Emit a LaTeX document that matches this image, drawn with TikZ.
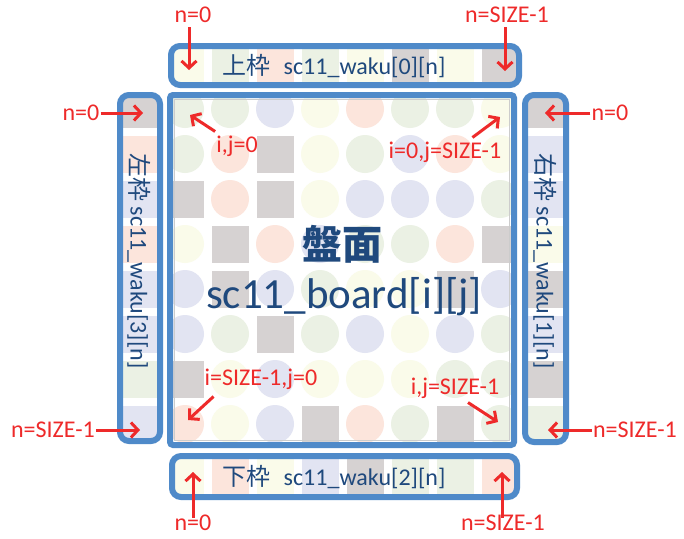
\documentclass[tikz,border=0pt]{standalone}
\usepackage{fontspec}
\setmainfont{Carlito}
\newfontfamily\jp{Noto Sans CJK JP}
\usetikzlibrary{arrows.meta}
\definecolor{frameblue}{HTML}{4F8AC9}
\definecolor{txtblue}{HTML}{1F497D}
\definecolor{lblred}{HTML}{EE2A2A}
\definecolor{cG}{HTML}{EBF1E4}
\definecolor{cB}{HTML}{E2E4F2}
\definecolor{cY}{HTML}{FAFBEA}
\definecolor{cR}{HTML}{FCE5DC}
\definecolor{cS}{HTML}{D6D2D2}
\begin{document}
\begin{tikzpicture}[x=1pt,y=-1pt,
  lbl/.style={text=lblred, font=\fontsize{24}{26}\selectfont, inner xsep=1pt, inner ysep=4pt},
  arr/.style={draw=lblred, line width=3pt, -{Straight Barb[length=7pt,width=15pt]}},
  frm/.style={draw=frameblue, line width=6pt, rounded corners=9pt},
  ftxt/.style={text=txtblue, font=\fontsize{24}{26}\selectfont, inner sep=0pt},
  circ/.style={circle, minimum size=38pt, inner sep=0pt, draw=none},
  sq/.style={rectangle, minimum size=37pt, inner sep=0pt, draw=none},
]
\useasboundingbox (0,0) rectangle (684,538);
\fill[white] (0,0) rectangle (684,538);

% ---------- board cells ----------
\begin{scope}
\clip (170,95) rectangle (514,445);
\foreach \row [count=\r] in {
  {G,G,B,Y,R,G,G,Y},
  {G,R,S,Y,G,B,R,Y},
  {S,R,S,Y,B,B,B,G},
  {Y,S,R,B,G,G,R,S},
  {B,S,B,G,Y,Y,S,B},
  {B,G,S,G,B,Y,B,G},
  {S,Y,B,Y,Y,Y,G,G},
  {R,Y,B,S,R,G,S,G}}{
  \foreach \c [count=\k] in \row {
    \if\c S
      \node[sq, fill=cS] (b\r-\k) at ({185+45*(\k-1)},{109+45*(\r-1)}) {};
    \else
      \node[circ, fill=c\c] (b\r-\k) at ({185+45*(\k-1)},{109+45*(\r-1)}) {};
    \fi
  }
}
\end{scope}
\draw[gray!40, line width=0.8pt] (174.5,99.5) rectangle (509.5,440.5);
\draw[draw=frameblue, line width=6pt, rounded corners=3pt] (170,95) rectangle (514,445);

% ---------- frame cells ----------
\begin{scope}
\clip[rounded corners=6pt] (171,46) rectangle (519,85);
\foreach \c [count=\k] in {Y,G,R,G,Y,S,Y,S}
  \fill[c\c] ({185+45*(\k-1)-18.5},46) rectangle ++(37,39);
\end{scope}
\begin{scope}
\clip[rounded corners=6pt] (172,456) rectangle (517,497);
\foreach \c [count=\k] in {Y,R,Y,B,S,G,G,R}
  \fill[c\c] ({185+45*(\k-1)-18.5},456) rectangle ++(37,41);
\end{scope}
\begin{scope}
\clip[rounded corners=6pt] (120,95) rectangle (160,441);
\foreach \c [count=\r] in {S,R,B,R,B,B,G,B}
  \fill[c\c] (120,{109+45*(\r-1)-18.5}) rectangle ++(40,37);
\end{scope}
\begin{scope}
\clip[rounded corners=6pt] (525,95) rectangle (566,442);
\foreach \c [count=\r] in {S,B,B,Y,S,B,S,G}
  \fill[c\c] (525,{109+45*(\r-1)-18.5}) rectangle ++(41,37);
\end{scope}
\draw[frm] (171,46) rectangle (519,85);
\draw[frm] (172,456) rectangle (517,497);
\draw[frm] (120,95) rectangle (160,441);
\draw[frm] (525,95) rectangle (566,442);

% ---------- frame texts ----------
\node[ftxt] (ut) at (334,66) {{\jp 上枠}\hspace{13pt}sc11\_waku[0][n]};
\node[ftxt] (dt) at (334,477) {{\jp 下枠}\hspace{13pt}sc11\_waku[2][n]};
\node[ftxt, rotate=-90] (lt) at (139,261) {{\jp 左枠} sc11\_waku[3][n]};
\node[ftxt, rotate=-90] (rt) at (545,261) {{\jp 右枠} sc11\_waku[1][n]};

% ---------- board texts ----------
\node[text=txtblue, inner sep=0pt, font=\jp\bfseries\fontsize{40}{44}\selectfont] (ban) at (342,244) {盤面};
\node[text=txtblue, inner sep=0pt, font=\fontsize{43}{48}\selectfont] (board) at (344,297) {sc11\_board[i][j]};

% ---------- red labels ----------
\node[lbl] (ltop) at (193,15) {n=0};
\node[lbl] (rtop) at (507,15) {n=SIZE-1};
\node[lbl] (lup) at (81,113) {n=0};
\node[lbl] (llo) at (53,430) {n=SIZE-1};
\node[lbl] (rup) at (610,113) {n=0};
\node[lbl] (rlo) at (635,430) {n=SIZE-1};
\node[lbl, inner ysep=1pt] (lbot) at (193,523) {n=0};
\node[lbl, inner ysep=1pt] (rbot) at (503,523) {n=SIZE-1};
\node[lbl] (c00) at (237,146) {i,j=0};
\node[lbl] (c0n) at (445,152) {i=0,j=SIZE-1};
\node[lbl] (cn0) at (261,379) {i=SIZE-1,j=0};
\node[lbl] (cnn) at (455,388) {i,j=SIZE-1};

\coordinate (tltop) at (189,70);
\coordinate (trtop) at (505,71);
\coordinate (tlup) at (143,113);
\coordinate (tllo) at (140,430);
\coordinate (trup) at (545,113);
\coordinate (trlo) at (548,430);
\coordinate (tlbot) at (193,472);
\coordinate (trbot) at (502,472);
\coordinate (tc00) at (190,115);
\coordinate (tc0n) at (500,117);
\coordinate (tcn0) at (188,420);
\coordinate (tcnn) at (498,422);

\draw[arr] (ltop.south -| tltop) -- (tltop);
\draw[arr] (rtop.south -| trtop) -- (trtop);
\draw[arr] (lup.east) -- (tlup);
\draw[arr] (llo.east) -- (tllo);
\draw[arr] (rup.west) -- (trup);
\draw[arr] (rlo.west) -- (trlo);
\draw[arr] ([yshift=-4pt]lbot.north -| tlbot) -- (tlbot);
\draw[arr] ([yshift=-4pt]rbot.north -| trbot) -- (trbot);
\draw[arr] (c00.north west) -- (tc00);
\draw[arr] ([xshift=-30pt]c0n.north east) -- (tc0n);
\draw[arr] ([xshift=10pt,yshift=-3pt]cn0.south west) -- (tcn0);
\draw[arr] ([xshift=13pt]cnn.south) -- (tcnn);
\end{tikzpicture}
\end{document}
